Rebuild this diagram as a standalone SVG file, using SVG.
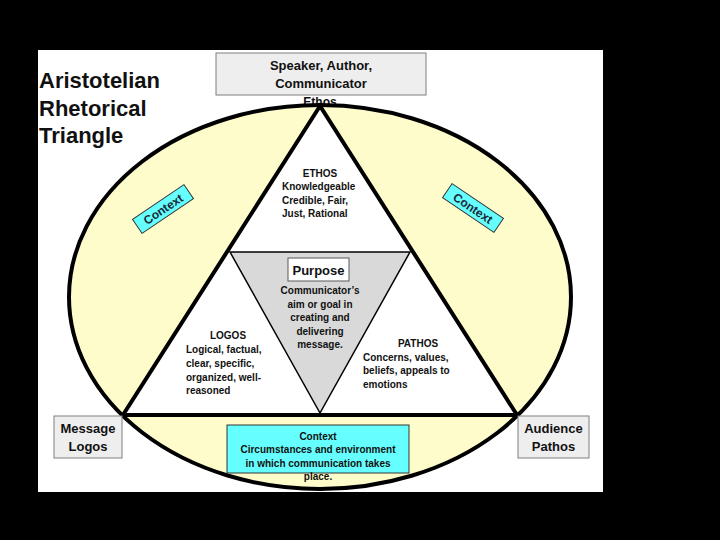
<svg xmlns="http://www.w3.org/2000/svg" width="720" height="540" viewBox="0 0 720 540">
<style>
text{font-family:"Liberation Sans",Arial,sans-serif;font-weight:bold;fill:#111}
.t10{font-size:10px}
.t13{font-size:13px}
.c{text-anchor:middle}
.gbox{fill:#eeeeee;stroke:#7f7f7f;stroke-width:1}
.cbox{fill:#66ffff;stroke:#333;stroke-width:1}
.ctx{font-size:12px;fill:#1a2a3a}
</style>
<rect x="0" y="0" width="720" height="540" fill="#000"/>
<rect x="38" y="50" width="565" height="442" fill="#fff"/>
<g id="title">
<text x="39" y="88" style="font-size:22px">Aristotelian</text>
<text x="39" y="116" style="font-size:22px">Rhetorical</text>
<text x="39" y="143" style="font-size:22px">Triangle</text>
</g>
<g id="speaker">
<rect class="gbox" x="216" y="53" width="210" height="42"/>
<text class="t13 c" x="321" y="70">Speaker, Author,</text>
<text class="t13 c" x="321" y="88">Communicator</text>
</g>
<g id="context-ellipse">
<ellipse cx="320" cy="297" rx="251" ry="192" fill="#fffccc"/>
<text class="c" x="320" y="106" style="font-size:12px">Ethos</text>
<ellipse cx="320" cy="297" rx="251" ry="192" fill="none" stroke="#000" stroke-width="4"/>
</g>
<g id="rhetorical-triangle">
<polygon points="320,106 123,415 517,415" fill="#fff" stroke="#000" stroke-width="4" stroke-linejoin="miter"/>
</g>
<g id="purpose-triangle">
<polygon points="230,252 410,252 320,413" fill="#d9d9d9" stroke="#000" stroke-width="1.5"/>
<rect x="288" y="258" width="61" height="23" fill="#fff" stroke="#595959" stroke-width="1"/>
<text class="t13 c" x="318.5" y="274.5">Purpose</text>
<text class="t10 c" x="320" y="294">Communicator’s</text>
<text class="t10 c" x="320" y="307.5">aim or goal in</text>
<text class="t10 c" x="320" y="321">creating and</text>
<text class="t10 c" x="320" y="334.5">delivering</text>
<text class="t10 c" x="320" y="348">message.</text>
</g>
<g id="ethos">
<text class="t10 c" x="320" y="177">ETHOS</text>
<text class="t10" x="282" y="190">Knowledgeable</text>
<text class="t10" x="282" y="204">Credible, Fair,</text>
<text class="t10" x="282" y="217">Just, Rational</text>
</g>
<g id="logos">
<text class="t10 c" x="228" y="339">LOGOS</text>
<text class="t10" x="186" y="353">Logical, factual,</text>
<text class="t10" x="186" y="367">clear, specific,</text>
<text class="t10" x="186" y="381">organized, well-</text>
<text class="t10" x="186" y="394">reasoned</text>
</g>
<g id="pathos">
<text class="t10 c" x="418" y="347">PATHOS</text>
<text class="t10" x="363" y="361">Concerns, values,</text>
<text class="t10" x="363" y="374">beliefs, appeals to</text>
<text class="t10" x="363" y="388">emotions</text>
</g>
<g id="context-left" transform="translate(163,209) rotate(-34)">
<rect class="cbox" x="-31" y="-8.5" width="62" height="17"/>
<text class="ctx c" x="0" y="4.5">Context</text>
</g>
<g id="context-right" transform="translate(473,208) rotate(34)">
<rect class="cbox" x="-31" y="-8.5" width="62" height="17"/>
<text class="ctx c" x="0" y="4.5">Context</text>
</g>
<g id="message">
<rect class="gbox" x="54" y="416" width="68" height="42"/>
<text class="t13 c" x="88" y="433">Message</text>
<text class="t13 c" x="88" y="451">Logos</text>
</g>
<g id="audience">
<rect class="gbox" x="518" y="416" width="71" height="42"/>
<text class="t13 c" x="553.5" y="433">Audience</text>
<text class="t13 c" x="553.5" y="451">Pathos</text>
</g>
<g id="context-bottom">
<rect class="cbox" x="227" y="425" width="182" height="48"/>
<text class="t10 c" x="318" y="440">Context</text>
<text class="t10 c" x="318" y="453">Circumstances and environment</text>
<text class="t10 c" x="318" y="467">in which communication takes</text>
<text class="t10 c" x="318" y="480">place.</text>
</g>
<g id="connectors"/>
</svg>
